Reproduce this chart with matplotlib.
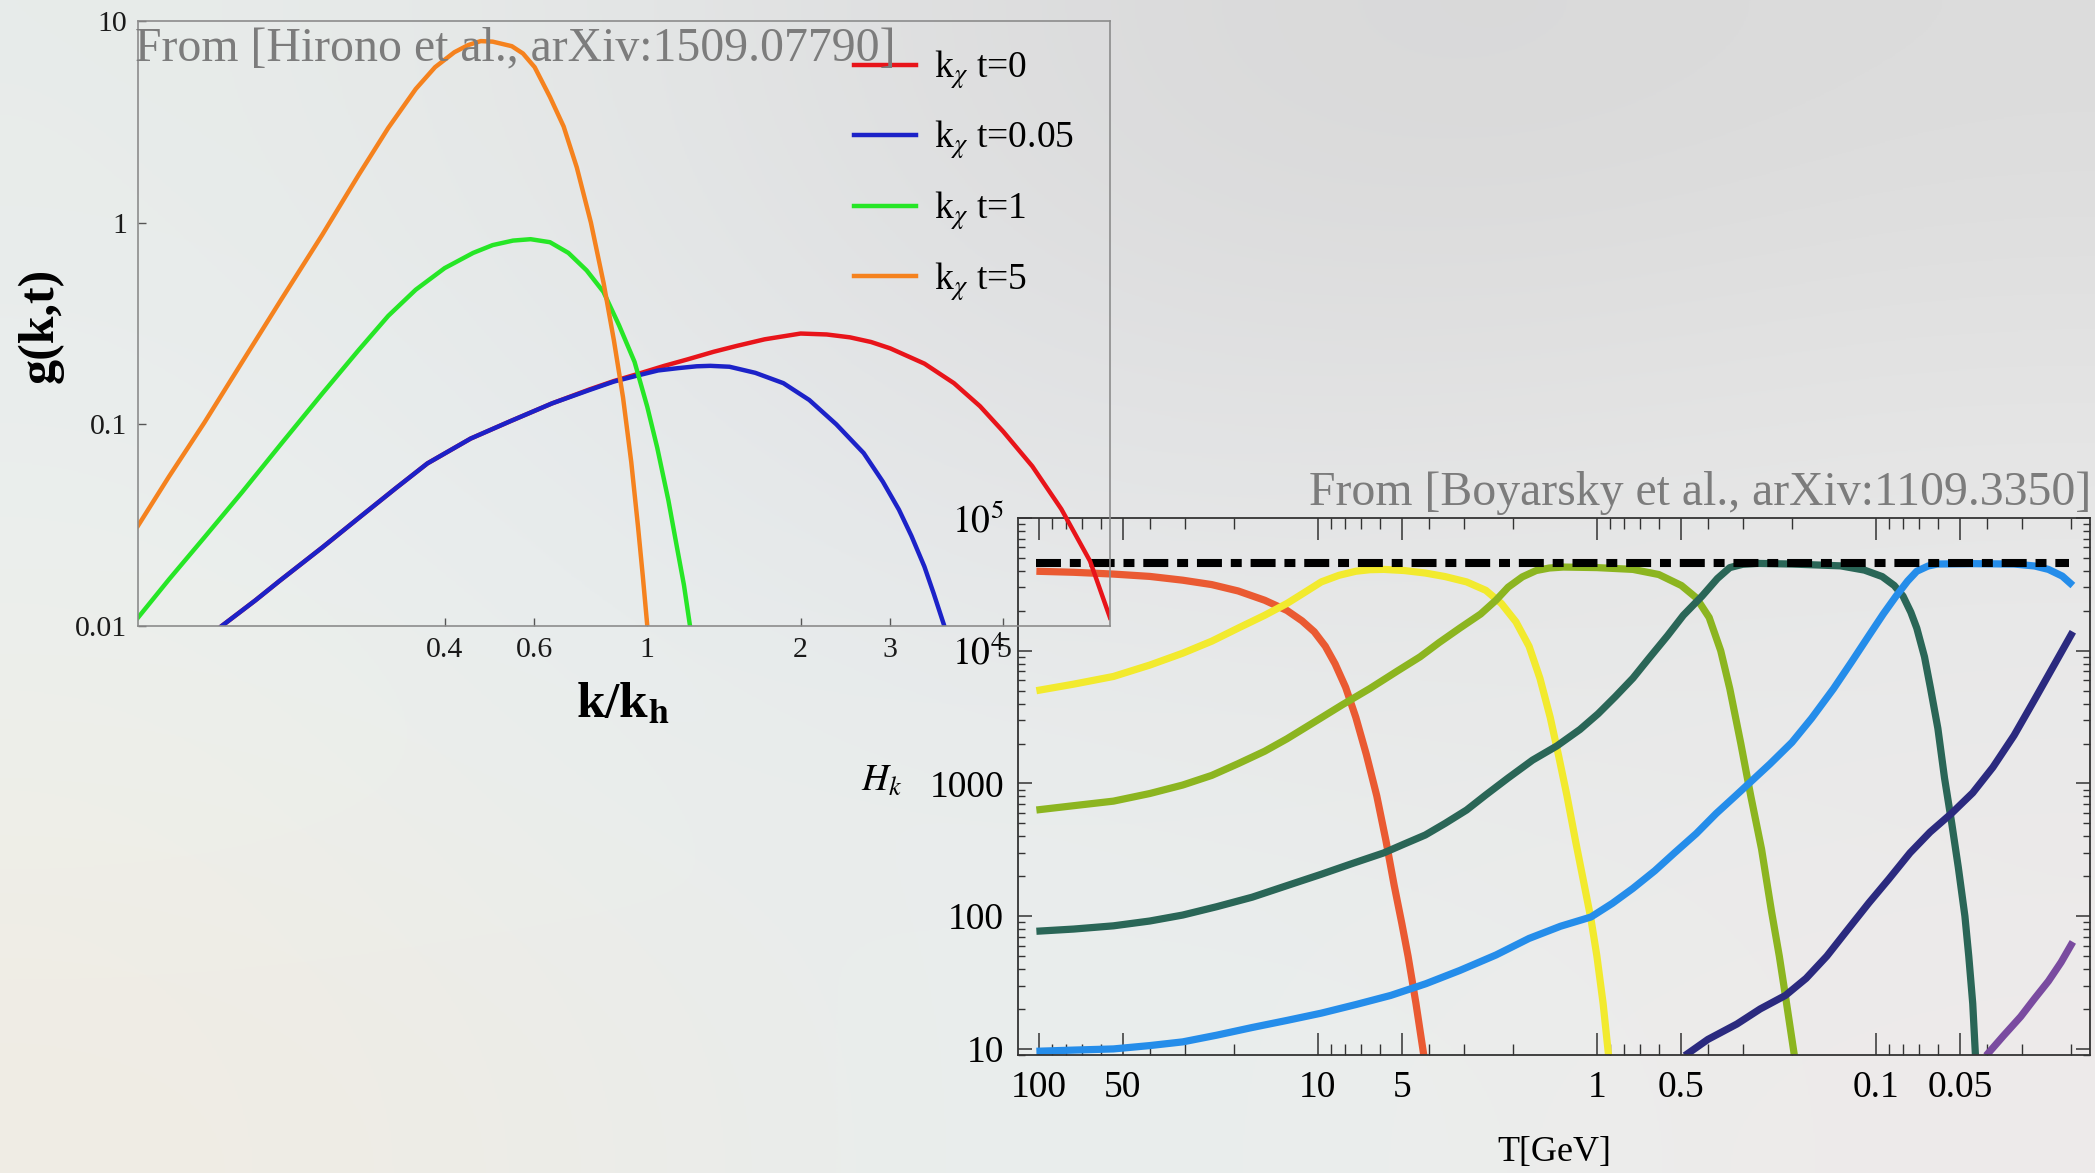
import matplotlib
matplotlib.use("Agg")
import matplotlib.pyplot as plt
import numpy as np
from matplotlib.ticker import FixedLocator, FixedFormatter, NullLocator, LogLocator, NullFormatter

plt.rcParams['font.family'] = ['Liberation Serif', 'DejaVu Serif']
plt.rcParams['mathtext.fontset'] = 'stix'

W, H = 2095, 1173

## LEFT PANEL: g(k,t) vs k/k_h  (Hirono et al.)
k_t0 = [0.146, 0.17, 0.19, 0.23, 0.27, 0.32, 0.37, 0.45, 0.54, 0.65, 0.77, 0.86, 0.96, 1.08, 1.2,
        1.35, 1.5, 1.7, 2.0, 2.25, 2.5, 2.75, 3.0, 3.5, 4.0, 4.5, 5.0, 5.7, 6.5, 7.4, 8.1]
g_t0 = [0.010, 0.0134, 0.0168, 0.0245, 0.034, 0.048, 0.064, 0.085, 0.104, 0.127, 0.149, 0.164, 0.178,
        0.195, 0.21, 0.229, 0.245, 0.264, 0.282, 0.279, 0.27, 0.256, 0.238, 0.2, 0.16, 0.123, 0.092,
        0.062, 0.038, 0.021, 0.011]

k_t005 = [0.146, 0.17, 0.19, 0.23, 0.27, 0.32, 0.37, 0.45, 0.54, 0.65, 0.77, 0.86, 0.96, 1.05, 1.15,
          1.25, 1.33, 1.45, 1.63, 1.85, 2.08, 2.35, 2.66, 2.9, 3.12, 3.3, 3.5, 3.65, 3.83]
g_t005 = [0.010, 0.0134, 0.0168, 0.0245, 0.034, 0.048, 0.064, 0.085, 0.104, 0.127, 0.148, 0.163, 0.175,
          0.185, 0.19, 0.194, 0.195, 0.193, 0.18, 0.16, 0.132, 0.1, 0.072, 0.052, 0.0377, 0.028, 0.0197,
          0.0145, 0.010]

k_t1 = [0.1, 0.115, 0.135, 0.16, 0.191, 0.23, 0.271, 0.31, 0.351, 0.40, 0.455, 0.497, 0.545, 0.59,
        0.644, 0.70, 0.76, 0.82, 0.88, 0.944, 1.0, 1.046, 1.1, 1.142, 1.18, 1.213]
g_t1 = [0.011, 0.017, 0.0275, 0.046, 0.080, 0.142, 0.233, 0.345, 0.465, 0.595, 0.708, 0.774, 0.815, 0.828,
        0.80, 0.708, 0.58, 0.454, 0.31, 0.204, 0.122, 0.0765, 0.042, 0.025, 0.016, 0.010]

k_t5 = [0.1, 0.115, 0.135, 0.16, 0.191, 0.23, 0.271, 0.31, 0.351, 0.383, 0.418, 0.445, 0.471, 0.497,
        0.542, 0.57, 0.601, 0.644, 0.685, 0.727, 0.775, 0.821, 0.86, 0.896, 0.93, 0.959, 0.98, 1.0]
g_t5 = [0.0314, 0.055, 0.102, 0.203, 0.415, 0.87, 1.72, 2.95, 4.6, 5.9, 7.0, 7.6, 7.95, 7.9,
        7.5, 6.9, 5.9, 4.2, 3.0, 1.88, 1.0, 0.50, 0.26, 0.136, 0.065, 0.031, 0.0176, 0.010]

left_xticks = [0.4, 0.6, 1, 2, 3, 5]
left_xlabels = ['0.4', '0.6', '1', '2', '3', '5']
left_yticks = [0.01, 0.1, 1, 10]
left_ylabels = ['0.01', '0.1', '1', '10']

## RIGHT PANEL: H_k vs T  (Boyarsky et al.)
T_1 = [102, 75, 54, 40, 30.5, 24, 19.3, 15.5, 12.9, 11.4, 10.3, 9.4, 8.67, 7.95, 7.31, 6.7, 6.15,
       5.7, 5.33, 5.0, 4.75, 4.45, 4.17]
H_1 = [39700, 39000, 37800, 36300, 34000, 31500, 28200, 24000, 20100, 16800, 13900, 10800, 7950, 5300,
       3150, 1650, 807, 370, 172, 88, 50, 22, 8.9]

T_2 = [102, 75, 54, 40, 30.5, 24, 19.3, 15.5, 12.9, 11.0, 9.72, 8.4, 7.31, 6.5, 5.8, 4.9, 4.12, 3.5,
       2.93, 2.5, 2.20, 1.95, 1.75, 1.6, 1.47, 1.37, 1.28, 1.19, 1.11, 1.05, 1.0, 0.95, 0.908]
H_2 = [5000, 5600, 6400, 7800, 9580, 11800, 14800, 18500, 22700, 28000, 33000, 37000, 39700, 40800,
       41000, 40200, 38500, 36200, 33000, 28500, 22700, 16500, 10800, 6200, 3150, 1600, 807, 360, 172,
       95, 50, 22, 8.9]

T_3 = [102, 75, 54, 40, 30.5, 24, 19.3, 15.5, 12.9, 10.3, 8.18, 6.5, 5.19, 4.3, 3.68, 3.1, 2.61, 2.3,
       2.08, 1.85, 1.65, 1.48, 1.32, 1.0, 0.743, 0.6, 0.498, 0.44, 0.396, 0.36, 0.334, 0.305, 0.281,
       0.257, 0.237, 0.222, 0.211, 0.196]
H_3 = [631, 680, 736, 840, 973, 1150, 1410, 1750, 2170, 2900, 3910, 5200, 7030, 9000, 11500, 14800,
       18900, 24000, 30100, 36000, 40200, 42000, 42700, 42300, 41000, 37500, 31000, 25000, 17800, 10000,
       5170, 2000, 807, 320, 110, 50, 25, 8.9]

T_4 = [102, 75, 54, 40, 30.5, 23, 17.2, 12.9, 9.72, 7.5, 5.8, 4.9, 4.12, 3.5, 2.93, 2.5, 2.08, 1.7,
       1.39, 1.15, 0.99, 0.86, 0.743, 0.65, 0.558, 0.49, 0.42, 0.37, 0.334, 0.3, 0.266, 0.2, 0.134,
       0.11, 0.095, 0.086, 0.080, 0.075, 0.0714, 0.067, 0.0637, 0.060, 0.0568, 0.0535, 0.0507, 0.048,
       0.0465, 0.045, 0.044]
H_4 = [77, 80, 84.6, 92, 102, 118, 139, 170, 207, 250, 300, 350, 409, 500, 631, 820, 1100, 1500,
       1920, 2550, 3350, 4500, 6210, 8800, 13000, 18500, 25800, 35000, 42300, 44800, 45500, 45000, 43600,
       40500, 36200, 31000, 25800, 19500, 14800, 9000, 5170, 2600, 1100, 500, 234, 100,
       50, 22, 8.9]

T_5 = [102, 75, 54, 40, 30.5, 23, 17.2, 12.9, 9.72, 7.3, 5.48, 4.1, 3.10, 2.3, 1.75, 1.35, 1.05, 0.88,
       0.743, 0.62, 0.527, 0.44, 0.374, 0.32, 0.281, 0.24, 0.2, 0.17, 0.142, 0.122, 0.106, 0.094,
       0.0847, 0.077, 0.0714, 0.065, 0.0602, 0.045, 0.032, 0.027, 0.0241, 0.0215, 0.0197]
H_5 = [9.6, 9.8, 10, 10.6, 11.3, 12.7, 14.5, 16.4, 18.6, 21.6, 25.3, 31, 39, 51, 68, 84, 98.6, 125,
       162, 220, 300, 420, 593, 800, 1030, 1400, 2040, 3100, 5170, 8300, 13000, 19000,
       25800, 33500, 39700, 43500, 45000, 45300, 45000, 43500, 41000, 36500, 31000]

T_6 = [0.484, 0.4, 0.315, 0.26, 0.211, 0.178, 0.15, 0.127, 0.106, 0.09, 0.0755, 0.064, 0.0537, 0.045,
       0.0381, 0.032, 0.027, 0.023, 0.0197]
H_6 = [8.9, 11.8, 15.4, 20, 25.3, 34, 50, 78, 126, 190, 300, 430, 593, 850, 1325, 2300, 4290, 7800, 13900]

T_7 = [0.0403, 0.035, 0.0303, 0.027, 0.0241, 0.0217, 0.0197]
H_7 = [8.9, 12.5, 17.5, 24, 32.4, 45, 64]

T_bound = [102, 0.0203]
H_bound = [45500, 45500]

right_xticks = [100, 50, 10, 5, 1, 0.5, 0.1, 0.05]
right_xlabels = ['100', '50', '10', '5', '1', '0.5', '0.1', '0.05']
right_yticks = [10, 100, 1000, 1e4, 1e5]
right_ylabels = ['10', '100', '1000', r'$10^4$', r'$10^5$']

fig = plt.figure(figsize=(W / 100, H / 100), dpi=100)
fig.patch.set_facecolor('#e4e6e7')

# soft washed-out slide background
bg_colors = np.array([
    [[232, 236, 234], [228, 230, 230], [220, 220, 221], [216, 216, 216], [220, 220, 220]],
    [[234, 238, 238], [230, 234, 236], [226, 227, 229], [228, 228, 228], [230, 230, 230]],
    [[238, 240, 234], [232, 238, 238], [234, 236, 236], [232, 234, 234], [234, 234, 234]],
    [[240, 236, 228], [236, 236, 232], [232, 238, 238], [236, 238, 236], [238, 234, 234]],
]) / 255.0
bg = fig.add_axes([0, 0, 1, 1], zorder=-10)
bg.imshow(bg_colors, aspect='auto', interpolation='bicubic', extent=[0, 1, 0, 1])
bg.axis('off')

# ---- right panel
axR = fig.add_axes([1018 / W, 1 - 1055 / H, 1072 / W, 537 / H], zorder=2)
axR.set_facecolor('none')
right_colors = ['#ea5a32', '#f2ea2e', '#8cb520', '#2a6657', '#258dea', '#2b2a7f', '#7a4ba0']
for T, Hk, c in zip([T_1, T_2, T_3, T_4, T_5, T_6, T_7],
                    [H_1, H_2, H_3, H_4, H_5, H_6, H_7], right_colors):
    axR.plot(T, Hk, color=c, lw=5.2, solid_capstyle='butt', solid_joinstyle='round')
axR.plot(T_bound, H_bound, color='black', lw=5.8, linestyle=(0, (3.1, 1.1, 1.36, 1.1)))
axR.set_xscale('log')
axR.set_yscale('log')
axR.set_xlim(118.7, 0.0171)
axR.set_ylim(9.0, 1e5)
axR.xaxis.set_major_locator(FixedLocator(right_xticks))
axR.xaxis.set_major_formatter(FixedFormatter(right_xlabels))
axR.xaxis.set_minor_locator(LogLocator(base=10, subs=np.arange(1, 10), numticks=50))
axR.xaxis.set_minor_formatter(NullFormatter())
axR.yaxis.set_major_locator(FixedLocator(right_yticks))
axR.yaxis.set_major_formatter(FixedFormatter(right_ylabels))
axR.yaxis.set_minor_locator(LogLocator(base=10, subs=np.arange(2, 10), numticks=50))
axR.yaxis.set_minor_formatter(NullFormatter())
axR.tick_params(which='both', direction='in', top=True, right=True, color='#333333')
axR.tick_params(axis='x', which='major', length=16, width=1.1, pad=11, labelsize=27)
axR.tick_params(axis='x', which='minor', length=8, width=1.0)
axR.tick_params(axis='y', which='major', length=10, width=1.1, pad=10, labelsize=27)
axR.tick_params(axis='y', which='minor', length=5, width=1.0)
for s in axR.spines.values():
    s.set_color('#333333')
    s.set_linewidth(1.3)

fig.text(882 / W, 1 - 782 / H, r'$H_k$', fontsize=27, ha='center', va='center')
fig.text(1554 / W, 1 - 1152 / H, 'T[GeV]', fontsize=26, ha='center', va='center')

# ---- left panel
axL = fig.add_axes([138 / W, 1 - 626 / H, 972 / W, 605 / H], zorder=3)
axL.set_facecolor('none')
axL.plot(k_t0, g_t0, color='#e8141a', lw=3.2, label=r'k$_\chi$ t=0', solid_joinstyle='round')
axL.plot(k_t005, g_t005, color='#1c22c8', lw=3.2, label=r'k$_\chi$ t=0.05', solid_joinstyle='round')
axL.plot(k_t1, g_t1, color='#26e626', lw=3.2, label=r'k$_\chi$ t=1', solid_joinstyle='round')
axL.plot(k_t5, g_t5, color='#f5821e', lw=3.2, label=r'k$_\chi$ t=5', solid_joinstyle='round')
axL.set_xscale('log')
axL.set_yscale('log')
axL.set_xlim(0.1, 8.1)
axL.set_ylim(0.01, 10)
axL.xaxis.set_major_locator(FixedLocator(left_xticks))
axL.xaxis.set_major_formatter(FixedFormatter(left_xlabels))
axL.xaxis.set_minor_locator(NullLocator())
axL.yaxis.set_major_locator(FixedLocator(left_yticks))
axL.yaxis.set_major_formatter(FixedFormatter(left_ylabels))
axL.yaxis.set_minor_locator(NullLocator())
axL.tick_params(which='major', direction='in', length=6, width=1.0, color='#555555',
                labelsize=21.5, pad=8, labelcolor='#1a1a1a')
for s in axL.spines.values():
    s.set_color('#8c8c8c')
    s.set_linewidth(1.2)
axL.legend(loc='upper left', bbox_to_anchor=(0.7366, 0.955), frameon=False, fontsize=27,
           handlelength=1.65, handletextpad=0.48, labelspacing=0.75, borderpad=0, borderaxespad=0)

fig.text(623 / W, 1 - 705 / H, r'k/k$_{\mathbf{h}}$', fontsize=37, fontweight='bold',
         ha='center', va='center')
fig.text(40 / W, 1 - 325 / H, 'g(k,t)', fontsize=36, fontweight='bold', rotation=90,
         ha='center', va='center')

fig.text(135 / W, 1 - 60 / H, 'From [Hirono et al., arXiv:1509.07790]', color='#7c7c7c',
         fontsize=34.4, va='baseline', ha='left', zorder=5)
fig.text(2091 / W, 1 - 505 / H, 'From [Boyarsky et al., arXiv:1109.3350]', color='#7c7c7c',
         fontsize=34.4, va='baseline', ha='right', zorder=5)

fig.savefig('out.png', dpi=100, facecolor=fig.get_facecolor())
